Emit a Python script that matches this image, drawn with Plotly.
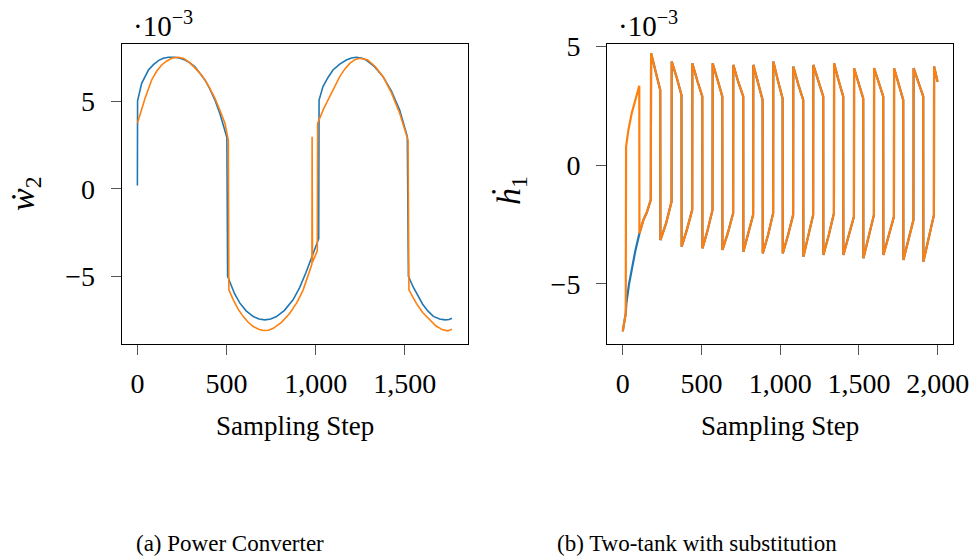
import plotly.graph_objects as go

# ---------------- Data: (a) Power Converter ----------------
pc_blue_steps = [0, 1, 24, 62, 90, 118, 145, 174, 211, 240, 267, 295, 323, 350, 379, 407, 435, 463,
                 491, 502, 506, 520, 545, 575, 610, 650, 682, 715, 748, 780, 825, 873, 910, 945,
                 975, 1006, 1017, 1019, 1041, 1070, 1097, 1135, 1172, 1200, 1228, 1255, 1284, 1330,
                 1378, 1425, 1471, 1514, 1520, 1546, 1600, 1630, 1660, 1695, 1725, 1748, 1764]
pc_blue_vals = [0.2, 5.05, 6.05, 6.81, 7.12, 7.35, 7.48, 7.54, 7.54, 7.48, 7.38, 7.22, 7.0, 6.66,
                6.24, 5.72, 5.09, 4.3, 3.38, 2.95, -5.0, -5.4, -6.0, -6.54, -6.98, -7.31, -7.45,
                -7.5, -7.45, -7.31, -6.95, -6.35, -5.65, -4.8, -3.95, -3.09, -2.85, 5.09, 5.86,
                6.4, 6.81, 7.15, 7.38, 7.5, 7.54, 7.5, 7.38, 7.0, 6.43, 5.6, 4.52, 2.99, -5.0,
                -5.6, -6.6, -7.0, -7.3, -7.45, -7.5, -7.48, -7.4]

pc_orange_steps = [0, 20, 43, 80, 108, 136, 165, 192, 230, 260, 286, 320, 360, 398, 435, 465, 491,
                   510, 513, 538, 565, 594, 620, 650, 680, 706, 735, 762, 808, 855, 895, 930, 967,
                   979, 980, 982, 1009, 1011, 1045, 1079, 1107, 1135, 1163, 1191, 1220, 1247, 1290,
                   1335, 1378, 1425, 1471, 1518, 1523, 1564, 1600, 1639, 1675, 1713, 1741, 1764]
pc_orange_vals = [3.76, 4.48, 5.19, 6.24, 6.74, 7.1, 7.33, 7.48, 7.54, 7.47, 7.29, 6.96, 6.53, 5.92,
                  5.19, 4.45, 3.76, 2.8, -5.78, -6.35, -6.88, -7.31, -7.62, -7.88, -8.04, -8.11,
                  -8.09, -7.98, -7.64, -7.12, -6.5, -5.78, -4.64, -4.3, 2.99, -4.2, -3.55, 3.76,
                  4.6, 5.28, 5.9, 6.43, 6.86, 7.19, 7.4, 7.48, 7.40, 7.0, 6.43, 5.5, 4.33, 2.8,
                  -5.78, -6.54, -7.08, -7.5, -7.85, -8.07, -8.13, -8.03]

# ---------------- Data: (b) Two-tank with substitution ----------------
tt_blue_init_steps = [0, 19, 23, 40, 60, 80, 106]
tt_blue_init_vals = [-7.0, -6.24, -5.82, -5.0, -4.3, -3.6, -2.87]

tt_orange_init_steps = [0, 19, 21, 36, 57, 78, 99, 105, 106, 131, 152, 178]
tt_orange_init_vals = [-7.0, -6.24, 0.78, 1.49, 2.19, 2.75, 3.31, 3.35, -2.87, -2.3, -2.0, -1.46]

tt_up_steps = [180, 311, 442, 571, 702, 829, 956, 1083, 1210, 1342, 1469, 1596, 1723, 1847, 1977]
tt_peak_vals = [4.72, 4.37, 4.30, 4.30, 4.23, 4.23, 4.37, 4.16, 4.23, 4.30, 4.09, 4.09, 4.09, 4.09, 4.16]
tt_high_mid_vals = [3.95, 3.70, 3.55, 3.60, 3.50, 3.45, 3.55, 3.40, 3.50, 3.55, 3.40, 3.45, 3.40, 3.45]
tt_down_steps = [239, 374, 506, 633, 766, 889, 1016, 1147, 1274, 1401, 1528, 1655, 1782, 1909]
tt_high_end_vals = [3.17, 2.96, 2.90, 2.90, 2.90, 2.75, 2.82, 2.75, 2.90, 2.90, 2.82, 2.90, 2.75, 2.90]
tt_bottom_vals = [-3.15, -3.43, -3.50, -3.57, -3.64, -3.71, -3.71, -3.85, -3.78, -3.78, -3.92, -3.78, -3.99, -4.06]
tt_low_mid_vals = [-2.45, -2.70, -2.75, -2.85, -2.90, -2.95, -2.95, -3.00, -2.95, -3.00, -3.05, -3.00, -3.15, -3.10]
tt_low_end_vals = [-1.53, -1.88, -1.88, -2.02, -2.09, -2.02, -2.09, -2.09, -2.02, -2.16, -2.09, -2.16, -2.30, -2.09]
tt_last_step = 1999
tt_last_val = 3.52

# tick labels
pc_xticks = [0, 500, 1000, 1500]
pc_xtext = ["0", "500", "1,000", "1,500"]
tt_xticks = [0, 500, 1000, 1500, 2000]
tt_xtext = ["0", "500", "1,000", "1,500", "2,000"]
yticks = [-5, 0, 5]
ytext = ["\u22125", "0", "5"]

# ---------------- build the two-tank polyline from the read breakpoints ----------------
tt_steps = list(tt_orange_init_steps)
tt_vals = list(tt_orange_init_vals)
n = len(tt_up_steps)
for k in range(n):
    u = tt_up_steps[k]
    tt_steps.append(u)
    tt_vals.append(tt_peak_vals[k])
    if k < len(tt_down_steps):
        d = tt_down_steps[k]
        tt_steps += [(u + d) / 2, d - 1, d]
        tt_vals += [tt_high_mid_vals[k], tt_high_end_vals[k], tt_bottom_vals[k]]
        nu = tt_up_steps[k + 1]
        tt_steps += [(d + nu) / 2, nu - 1]
        tt_vals += [tt_low_mid_vals[k], tt_low_end_vals[k]]
    else:
        tt_steps.append(tt_last_step)
        tt_vals.append(tt_last_val)

idx = tt_steps.index(106, 0)
blue_steps = tt_blue_init_steps + tt_steps[idx + 1:]
blue_vals = tt_blue_init_vals + tt_vals[idx + 1:]

scale = 1e-3
BLUE = "#1f77b4"
ORANGE = "#ff7f0e"

fig = go.Figure()
fig.add_trace(go.Scatter(x=pc_blue_steps, y=[v * scale for v in pc_blue_vals], mode="lines",
                         line=dict(color=BLUE, width=1.6), xaxis="x", yaxis="y", showlegend=False))
fig.add_trace(go.Scatter(x=pc_orange_steps, y=[v * scale for v in pc_orange_vals], mode="lines",
                         line=dict(color=ORANGE, width=1.6), xaxis="x", yaxis="y", showlegend=False))
fig.add_trace(go.Scatter(x=blue_steps, y=[v * scale for v in blue_vals], mode="lines",
                         line=dict(color=BLUE, width=2.2), xaxis="x2", yaxis="y2", showlegend=False))
fig.add_trace(go.Scatter(x=tt_steps, y=[v * scale for v in tt_vals], mode="lines",
                         line=dict(color=ORANGE, width=2.2), xaxis="x2", yaxis="y2", showlegend=False))

W, H = 975, 558
SERIF = "Liberation Serif, DejaVu Serif, serif"
TICKFONT = dict(family=SERIF, size=28, color="black")

def ax(**kw):
    d = dict(showgrid=False, zeroline=False, showline=True, mirror=True, linecolor="black",
             linewidth=1, ticks="outside", ticklen=10, tickwidth=1, tickcolor="#555555",
             tickfont=TICKFONT, tickmode="array", automargin=False)
    d.update(kw)
    return d

ydom = [1 - 344 / H, 1 - 44 / H]
fig.update_layout(
    template="none",
    width=W, height=H, margin=dict(l=0, r=0, t=0, b=0, pad=0),
    paper_bgcolor="white", plot_bgcolor="white",
    xaxis=ax(domain=[121.7 / W, 468.3 / W], range=[-88, 1856], tickvals=pc_xticks, ticktext=pc_xtext,
             anchor="y", ticklabelstandoff=4),
    yaxis=ax(domain=ydom, range=[-8.88 * scale, 8.30 * scale], tickvals=[v * scale for v in yticks],
             ticktext=ytext, anchor="x", ticklabelstandoff=10),
    xaxis2=ax(domain=[607 / W, 953.3 / W], range=[-100, 2099], tickvals=tt_xticks, ticktext=tt_xtext,
              anchor="y2", ticklabelstandoff=4),
    yaxis2=ax(domain=ydom, range=[-7.53 * scale, 5.11 * scale], tickvals=[v * scale for v in yticks],
              ticktext=ytext, anchor="x2", ticklabelstandoff=10),
)

def ann(text, px, py, size, xanchor="center", yanchor="middle", angle=0):
    fig.add_annotation(text=text, x=px / W, y=1 - py / H, xref="paper", yref="paper",
                       showarrow=False, xanchor=xanchor, yanchor=yanchor, textangle=angle,
                       font=dict(family=SERIF, size=size, color="black"))

ann("\u00b710<sup>\u22123</sup>", 131, 24, 29, xanchor="left")
ann("\u00b710<sup>\u22123</sup>", 616, 24, 29, xanchor="left")
ann("Sampling Step", 295, 426, 27)
ann("Sampling Step", 780, 426, 27)
ann("<i>\u1e87</i><sub>2</sub>", 25, 194, 34, angle=-90)
ann("<i>\u1e23</i><sub>1</sub>", 511, 190, 34, angle=-90)
ann("(a) Power Converter", 134, 543, 23, xanchor="left")
ann("(b) Two-tank with substitution", 555, 543, 23, xanchor="left")

fig.write_html("out.html", config={"displayModeBar": False},
               post_script="document.body.style.margin='0';document.body.style.padding='0';"
                           "document.body.style.overflow='hidden';")
